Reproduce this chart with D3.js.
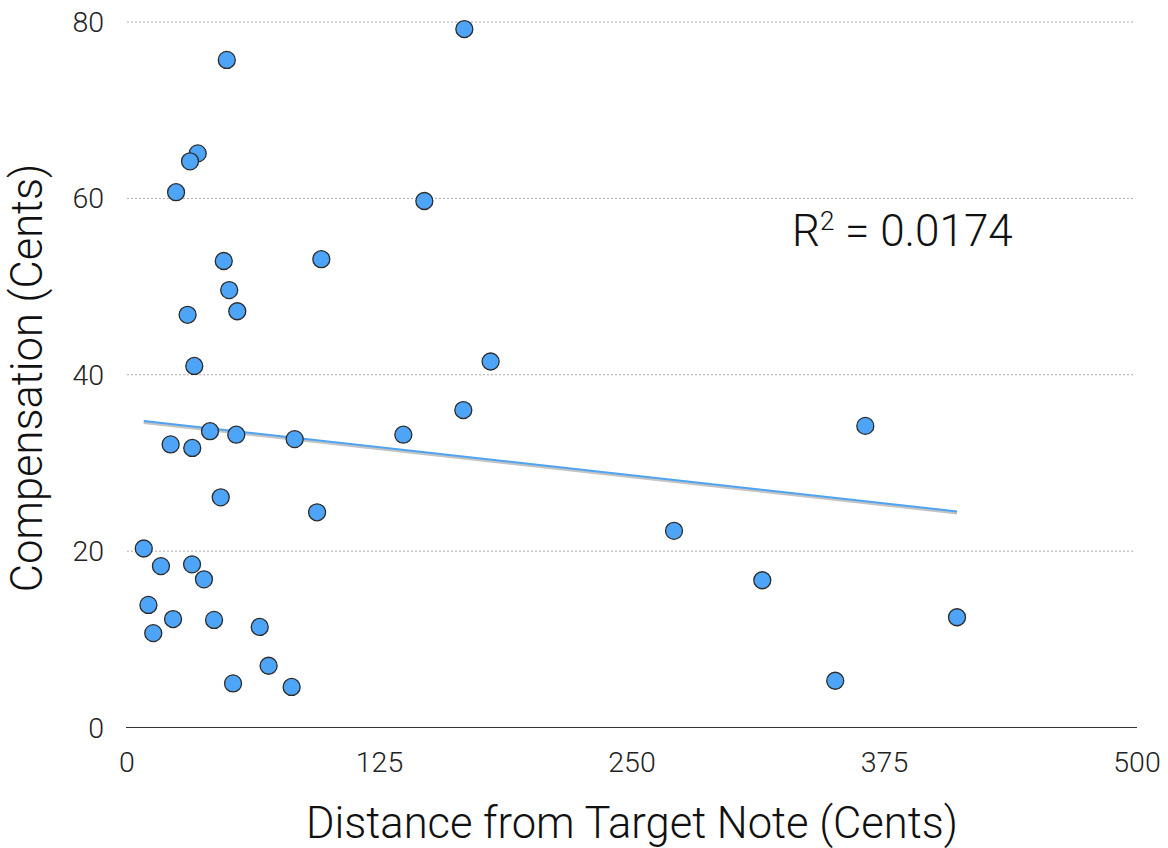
<!DOCTYPE html>
<html>
<head>
<meta charset="utf-8">
<script src="https://cdn.jsdelivr.net/npm/d3@7"></script>
<style>
    body { margin: 0; background: #fff; }
    svg { display: block; font-family: 'Helvetica Neue', Roboto, 'Liberation Sans', sans-serif; font-weight: 300; }
</style>
</head>
<body>
<div class="Canvas"></div>
<script>
// distance from target note (x) and compensation (y), both in cents
const distance = [167, 49.4, 35, 31.2, 24.3, 147.2, 47.9, 96.2, 50.6, 30, 54.6, 33.3, 180, 166.5, 41.1, 54.1, 83, 136.8, 21.6, 32.3,
    46.4, 94.1, 8.3, 16.8, 32.2, 38.1, 10.6, 22.8, 43.1, 13, 65.7, 70.1, 52.5, 81.5, 365.5, 270.8, 314.5, 410.9, 350.6];
const compensation = [79.2, 75.7, 65.1, 64.2, 60.7, 59.7, 52.9, 53.1, 49.6, 46.8, 47.2, 41.0, 41.5, 36.0, 33.6, 33.2, 32.7, 33.2, 32.1, 31.7,
    26.1, 24.4, 20.3, 18.3, 18.5, 16.8, 13.9, 12.3, 12.2, 10.7, 11.4, 7.0, 5.0, 4.6, 34.2, 22.3, 16.7, 12.5, 5.3];

// linear trend line, start and end
const trendX = [8.3, 410.9];
const trendY = [34.75, 24.5];

const xTicks = [0, 125, 250, 375, 500];
const yTicks = [0, 20, 40, 60, 80];
const rSquared = '0.0174';

const width = 1168;
const height = 848;
const pointRadius = 8.5;

let x = d3.scaleLinear().domain([0, 500]).range([127, 1137]);
let y = d3.scaleLinear().domain([0, 80]).range([727.5, 22]);

let svg = d3.select('.Canvas').append('svg').attr('width', width).attr('height', height);

// dotted grid lines (not at zero)
svg.append('g')
    .selectAll('line')
    .data(yTicks.filter((d) => d > 0))
    .enter()
    .append('line')
    .attr('x1', x(0))
    .attr('x2', x(500) - 2)
    .attr('y1', (d) => y(d))
    .attr('y2', (d) => y(d))
    .attr('stroke', '#a8a8a8')
    .attr('stroke-width', 1)
    .attr('stroke-dasharray', '2,2');

// x axis line
svg.append('line')
    .attr('x1', x(0) - 1)
    .attr('x2', x(500))
    .attr('y1', y(0))
    .attr('y2', y(0))
    .attr('stroke', '#333')
    .attr('stroke-width', 1.2);

// tick labels
svg.append('g')
    .selectAll('text')
    .data(yTicks)
    .enter()
    .append('text')
    .attr('x', 104)
    .attr('y', (d) => y(d) + 10)
    .attr('text-anchor', 'end')
    .attr('font-size', '28.5px')
    .attr('fill', '#222')
    .text((d) => d);

svg.append('g')
    .selectAll('text')
    .data(xTicks)
    .enter()
    .append('text')
    .attr('x', (d) => x(d))
    .attr('y', 772)
    .attr('text-anchor', 'middle')
    .attr('font-size', '28.5px')
    .attr('fill', '#222')
    .text((d) => d);

// axis titles
svg.append('text')
    .attr('x', (x(0) + x(500)) / 2)
    .attr('y', 838)
    .attr('text-anchor', 'middle')
    .attr('font-size', '43.5px')
    .attr('fill', '#111')
    .text('Distance from Target Note (Cents)');

svg.append('text')
    .attr('transform', 'translate(42, 378) rotate(-90)')
    .attr('text-anchor', 'middle')
    .attr('font-size', '43.5px')
    .attr('fill', '#111')
    .text('Compensation (Cents)');

// trend line: gray shadow under the blue line
svg.append('line')
    .attr('x1', x(trendX[0]))
    .attr('y1', y(trendY[0]) + 1.5)
    .attr('x2', x(trendX[1]))
    .attr('y2', y(trendY[1]) + 1.5)
    .attr('stroke', '#c4c4c4')
    .attr('stroke-width', 3);
svg.append('line')
    .attr('x1', x(trendX[0]))
    .attr('y1', y(trendY[0]))
    .attr('x2', x(trendX[1]))
    .attr('y2', y(trendY[1]))
    .attr('stroke', '#4ea3f2')
    .attr('stroke-width', 2);

// points
svg.append('g')
    .selectAll('circle')
    .data(distance.map((d, i) => ({ x: d, y: compensation[i] })))
    .enter()
    .append('circle')
    .attr('cx', (d) => x(d.x))
    .attr('cy', (d) => y(d.y))
    .attr('r', pointRadius)
    .attr('fill', '#4ea4f6')
    .attr('stroke', '#2b2b2b')
    .attr('stroke-width', 1.3);

// r squared label
let r2 = svg.append('text')
    .attr('x', 792)
    .attr('y', 246)
    .attr('font-size', '44px')
    .attr('fill', '#111');
r2.append('tspan').text('R');
r2.append('tspan').attr('font-size', '26px').attr('dy', -16).text('2');
r2.append('tspan').attr('dy', 16).text(' = ' + rSquared);
</script>
</body>
</html>
